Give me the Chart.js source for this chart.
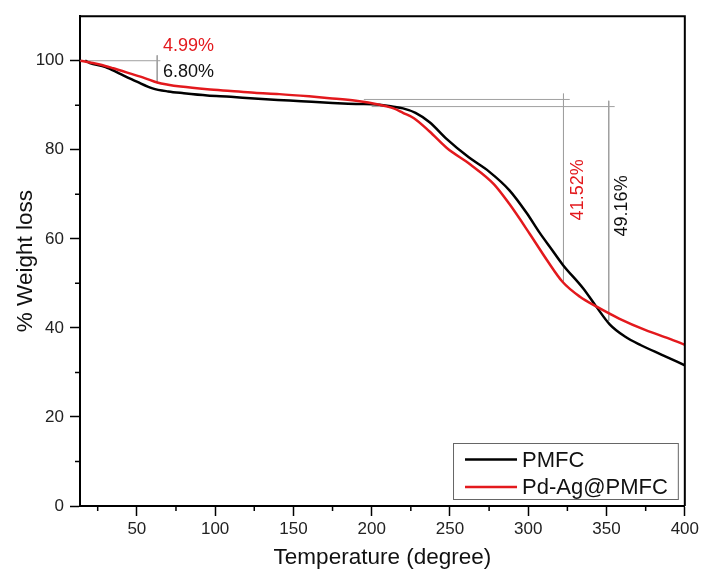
<!DOCTYPE html>
<html>
<head>
<meta charset="utf-8">
<script src="https://cdn.jsdelivr.net/npm/chart.js@4.4.1/dist/chart.umd.min.js"></script>
<style>
  body { margin: 0; background: #fff; }
  canvas { display: block; }
</style>
</head>
<body>
<canvas id="tga" width="702" height="572"></canvas>
<script>
// TGA curves
const tempPMFC = [17, 20, 30, 39, 50, 60, 70, 80, 95, 110, 125, 140, 155, 175, 190, 205, 213, 220, 228, 237, 248, 262, 275, 288, 299, 307, 315, 322, 335, 343, 352, 362, 372, 385, 400];
const wtPMFC   = [100, 99.5, 98.6, 97.1, 95.3, 93.8, 93.1, 92.7, 92.2, 91.9, 91.5, 91.2, 90.9, 90.5, 90.3, 90.1, 89.7, 89.3, 88.3, 86.2, 82.4, 78.3, 75.1, 70.9, 65.8, 61.5, 57.6, 54.2, 48.9, 45, 40.8, 38, 36.1, 34, 31.6];

const tempPdAg = [14, 20, 27, 35, 46, 55, 63, 70, 78, 95, 110, 125, 141, 160, 173, 190, 205, 214, 220, 227, 237, 248, 263, 278, 288, 301, 312, 322, 333, 344, 358, 375, 390, 400];
const wtPdAg   = [100, 99.6, 99.1, 98.3, 97.1, 96.1, 95.1, 94.6, 94.2, 93.6, 93.2, 92.8, 92.5, 92, 91.6, 91, 90.1, 89.3, 88.3, 87.1, 84.1, 80.4, 76.7, 72.3, 67.8, 61.1, 55.2, 50.3, 47, 44.7, 42.1, 39.5, 37.6, 36.2];

// guide lines (null breaks the line)
const guideLowX  = [13.7, 65, 63, 63, 63];
const guideLowY  = [100, 100, null, 101.2, 95.2];
const guidePdAgX = [195, 326.5, 322.5, 322.5, 322.5];
const guidePdAgY = [91.3, 91.3, null, 92.6, 50.4];
const guidePMFCX = [200, 355.2, 351.4, 351.4, 351.4];
const guidePMFCY = [89.7, 89.7, null, 91, 41.6];

const noteText = ["4.99%", "6.80%", "41.52%", "49.16%"];

const xTickValues = [50, 100, 150, 200, 250, 300, 350, 400];
const xMinorValues = [25, 75, 125, 175, 225, 275, 325, 375];
const yTickValues = [0, 20, 40, 60, 80, 100];
const yMinorValues = [10, 30, 50, 70, 90];

const RED = "#e3191d";
const FONT = "'Liberation Sans', Arial, sans-serif";

function pts(xs, ys) {
  return xs.map((x, i) => ({ x: x, y: ys[i] }));
}

function guide(xs, ys) {
  return {
    data: pts(xs, ys),
    showLine: true,
    borderColor: "#a0a0a0",
    borderWidth: 1,
    pointRadius: 0,
    spanGaps: false
  };
}

const decor = {
  id: "decor",
  afterDraw(chart) {
    const ctx = chart.ctx;
    const area = chart.chartArea;
    const xs = chart.scales.x, ys = chart.scales.y;
    ctx.save();

    // frame top/right
    ctx.strokeStyle = "#000";
    ctx.lineWidth = 2;
    ctx.beginPath();
    ctx.moveTo(area.left, area.top);
    ctx.lineTo(area.right, area.top);
    ctx.lineTo(area.right, area.bottom);
    ctx.stroke();

    // minor ticks
    ctx.lineWidth = 1.5;
    ctx.beginPath();
    xMinorValues.forEach(v => {
      const px = xs.getPixelForValue(v);
      ctx.moveTo(px, area.bottom);
      ctx.lineTo(px, area.bottom + 5);
    });
    yMinorValues.forEach(v => {
      const py = ys.getPixelForValue(v);
      ctx.moveTo(area.left, py);
      ctx.lineTo(area.left - 5, py);
    });
    ctx.stroke();

    // percentage notes
    const notes = [
      { x: 66.7, y: 103.2, color: RED, rot: false },
      { x: 66.7, y: 97.5, color: "#111", rot: false },
      { x: 331.6, y: 71, color: RED, rot: true },
      { x: 360, y: 67.4, color: "#111", rot: true }
    ];
    ctx.font = "18px " + FONT;
    ctx.textBaseline = "middle";
    notes.forEach((n, i) => {
      const px = xs.getPixelForValue(n.x), py = ys.getPixelForValue(n.y);
      ctx.fillStyle = n.color;
      if (n.rot) {
        ctx.save();
        ctx.translate(px, py);
        ctx.rotate(-Math.PI / 2);
        ctx.textAlign = "center";
        ctx.fillText(noteText[i], 0, 0);
        ctx.restore();
      } else {
        ctx.textAlign = "left";
        ctx.fillText(noteText[i], px, py);
      }
    });

    // legend box
    const items = [chart.data.datasets[1], chart.data.datasets[0]];
    ctx.font = "22px " + FONT;
    const tw = Math.max(...items.map(d => ctx.measureText(d.label).width));
    const boxW = 12 + 52 + 5 + tw + 10, boxH = 56;
    const bx = area.right - 7 - boxW, by = area.bottom - 7 - boxH;
    ctx.fillStyle = "#fff";
    ctx.fillRect(bx, by, boxW, boxH);
    ctx.strokeStyle = "#666";
    ctx.lineWidth = 1;
    ctx.strokeRect(bx + 0.5, by + 0.5, boxW, boxH);
    items.forEach((d, i) => {
      const cy = by + 16.5 + i * 27.5;
      ctx.strokeStyle = d.borderColor;
      ctx.lineWidth = 2.5;
      ctx.beginPath();
      ctx.moveTo(bx + 12, cy);
      ctx.lineTo(bx + 64, cy);
      ctx.stroke();
      ctx.fillStyle = "#111";
      ctx.textAlign = "left";
      ctx.textBaseline = "middle";
      ctx.fillText(d.label, bx + 69, cy + 1);
    });

    ctx.restore();
  }
};

new Chart("tga", {
  type: "scatter",
  data: {
    datasets: [
      {
        label: "Pd-Ag@PMFC",
        data: pts(tempPdAg, wtPdAg),
        showLine: true,
        borderColor: RED,
        borderWidth: 2.5,
        pointRadius: 0,
        cubicInterpolationMode: "monotone"
      },
      {
        label: "PMFC",
        data: pts(tempPMFC, wtPMFC),
        showLine: true,
        borderColor: "#000",
        borderWidth: 2.5,
        pointRadius: 0,
        cubicInterpolationMode: "monotone"
      },
      guide(guideLowX, guideLowY),
      guide(guidePdAgX, guidePdAgY),
      guide(guidePMFCX, guidePMFCY)
    ]
  },
  options: {
    responsive: false,
    animation: false,
    layout: { padding: { left: 0, top: 14, right: 17, bottom: 0 } },
    plugins: {
      legend: { display: false },
      tooltip: { enabled: false }
    },
    scales: {
      x: {
        type: "linear",
        min: 13.7,
        max: 400,
        afterBuildTicks: s => { s.ticks = xTickValues.map(v => ({ value: v })); },
        afterFit: s => { s.height = 66; },
        grid: { drawOnChartArea: false, tickLength: 10, tickWidth: 1.5, tickColor: "#000" },
        border: { color: "#000", width: 2 },
        ticks: { color: "#222", font: { family: FONT, size: 17 }, padding: 3, maxRotation: 0 },
        title: { display: true, text: "Temperature (degree)", color: "#111", font: { family: FONT, size: 22.5 }, padding: { top: 0, bottom: 1 } }
      },
      y: {
        min: 0,
        max: 110,
        afterBuildTicks: s => { s.ticks = yTickValues.map(v => ({ value: v })); },
        afterFit: s => { s.width = 80; },
        grid: { drawOnChartArea: false, tickLength: 10, tickWidth: 1.5, tickColor: "#000" },
        border: { color: "#000", width: 2 },
        ticks: { color: "#222", font: { family: FONT, size: 17 }, padding: 6 },
        title: { display: true, text: "% Weight loss", color: "#111", font: { family: FONT, size: 22.5 }, padding: { top: 12, bottom: 0 } }
      }
    }
  },
  plugins: [decor]
});
</script>
</body>
</html>
